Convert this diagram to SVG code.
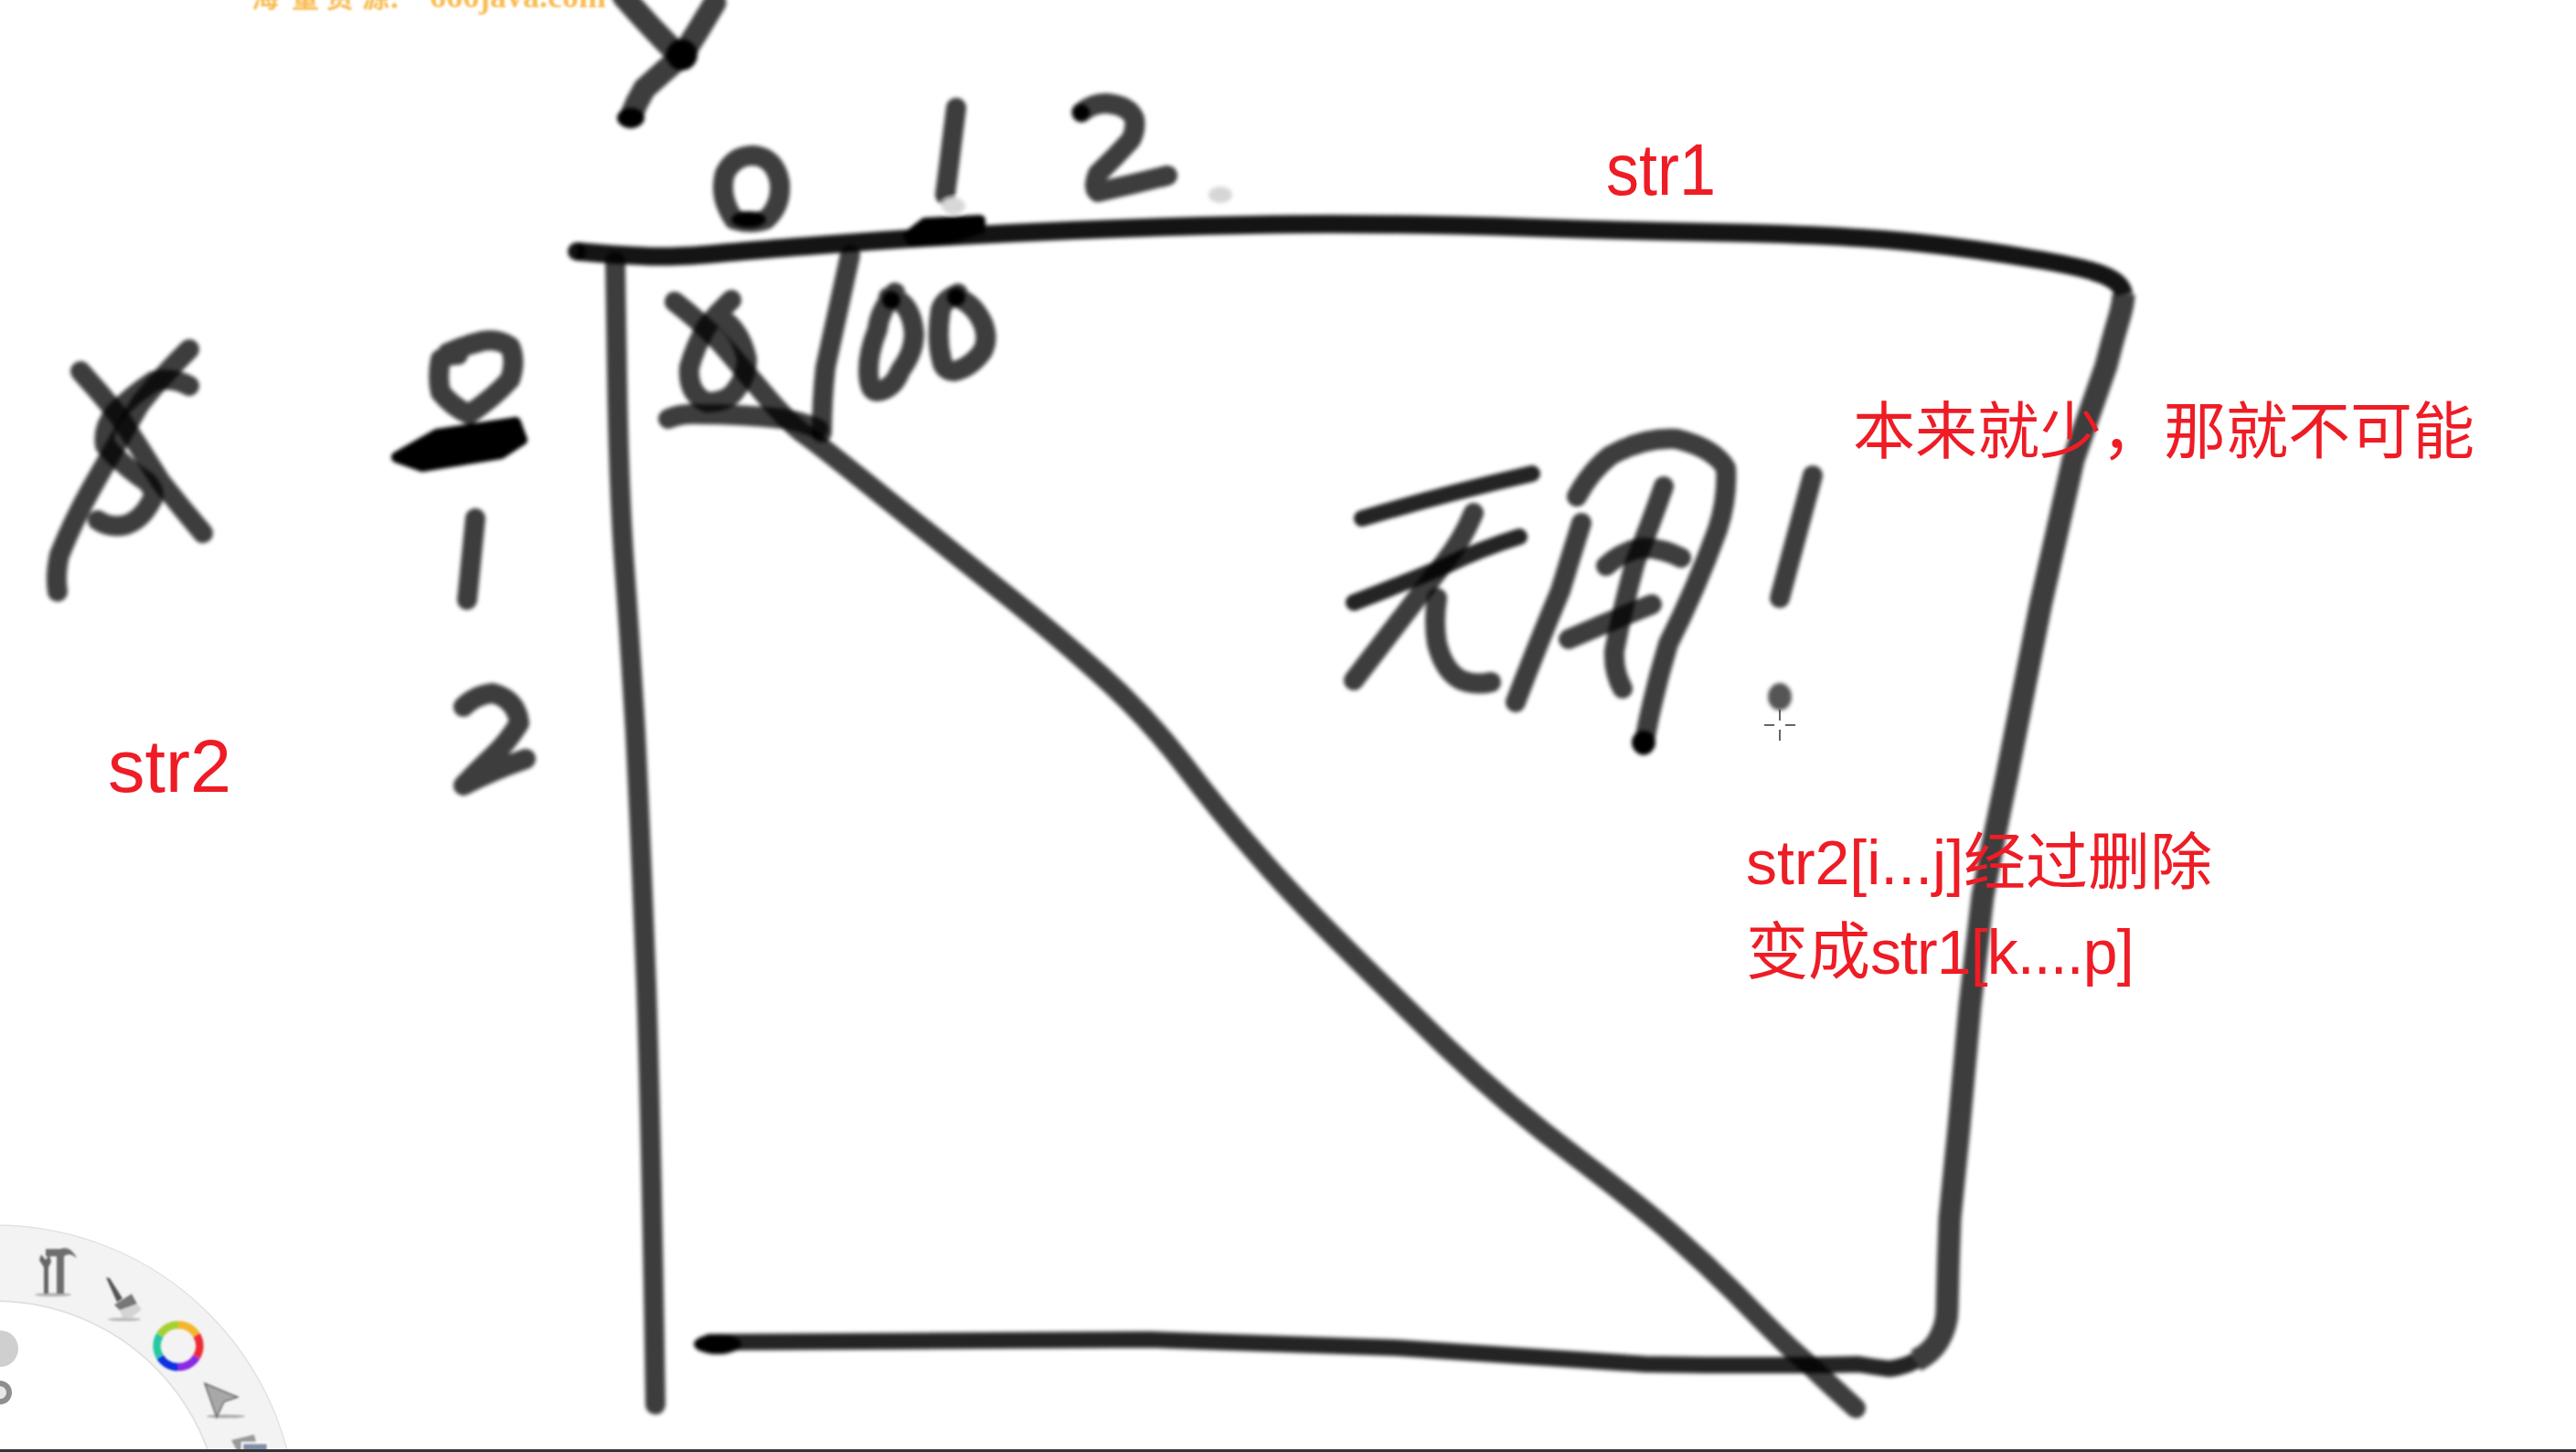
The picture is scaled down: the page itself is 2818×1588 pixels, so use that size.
<svg xmlns="http://www.w3.org/2000/svg" width="2818" height="1588" viewBox="0 0 2818 1588">
<defs>
<filter id="soft" x="-20%" y="-20%" width="140%" height="140%"><feGaussianBlur stdDeviation="2.2"/></filter>
<filter id="softer" x="-30%" y="-30%" width="160%" height="160%"><feGaussianBlur stdDeviation="1.2"/></filter>
</defs>
<style>
.ink{fill:none;stroke:#000;stroke-opacity:.76;stroke-width:22;stroke-linecap:round;stroke-linejoin:round}
.wide{stroke-width:25}
.thin{stroke-width:18;stroke-opacity:.86}
.heavy{stroke-opacity:.92;stroke-width:20}
.butt{stroke-linecap:butt}
.blob{fill:#000;stroke:#000;stroke-width:12;stroke-linejoin:round}
.red{font-family:"Liberation Sans","Noto Sans CJK SC",sans-serif;font-size:68px;fill:#ee1c25}
.wm{font-family:"Liberation Serif","Noto Sans CJK SC",serif;font-size:36px;fill:#f9bd55;font-weight:bold}
</style>
<rect width="2818" height="1588" fill="#fff"/>
<g id="watermark" filter="url(#softer)"><text class="wm" y="8" x="275 319 357 396 424 470"><tspan style="font-size:30px">海量资源：</tspan>666java.com</text></g>

<g id="toolbar">
<circle cx="-5" cy="1670" r="288" fill="none" stroke="#f3f3f3" stroke-width="83"/>
<circle cx="-5" cy="1670" r="330" fill="none" stroke="#e2e2e2" stroke-width="1.5"/>
<circle cx="-5" cy="1670" r="247" fill="none" stroke="#e2e2e2" stroke-width="2"/>
<circle cx="0" cy="1475" r="20" fill="#cfcfcf"/>
<circle cx="0" cy="1523" r="13" fill="#8e8e8e"/>
<circle cx="0" cy="1523" r="7" fill="#e8e8e8"/>
<g id="tool-hammer" filter="url(#softer)">
<ellipse cx="58" cy="1416" rx="20" ry="2" fill="#b5b5b5"/>
<path d="M48 1415V1386L43 1378L45 1372L50 1378L54 1372L56 1380L53 1386V1415Z" fill="#666"/>
<path d="M62 1415V1374H50V1366H66C74 1363 80 1368 84 1376C78 1371 74 1371 70 1374V1415Z" fill="#6e6e6e"/>
</g>
<g id="tool-brush" filter="url(#softer)">
<ellipse cx="136" cy="1443" rx="18" ry="2" fill="#bdbdbd"/>
<path d="M116 1397L120 1398L134 1420L128 1424Z" fill="#555"/>
<path d="M125 1427L144 1415L150 1426L131 1433Z" fill="#777"/>
<path d="M131 1433L150 1426L155 1432L143 1442L134 1441Z" fill="#d4d4d4"/>
</g>
<g id="tool-colour" fill="none" stroke-width="8.5" filter="url(#softer)">
<path d="M175 1460A23 23 0 0 1 195 1449" stroke="#a6d030"/>
<path d="M195 1449A23 23 0 0 1 215 1460" stroke="#f5b52a"/>
<path d="M215 1460A23 23 0 0 1 215 1484" stroke="#ee2c34"/>
<path d="M215 1484A23 23 0 0 1 195 1495" stroke="#8a2be2"/>
<path d="M195 1495A23 23 0 0 1 175 1484" stroke="#1030e0"/>
<path d="M175 1484A23 23 0 0 1 175 1460" stroke="#26c8a0"/>
</g>
<g id="tool-arrow" filter="url(#softer)">
<ellipse cx="247" cy="1549" rx="21" ry="2" fill="#b0b0b0"/>
<path d="M224 1513L260 1528L245 1533L237 1550Z" fill="#a8a8a8" stroke="#666" stroke-width="1.5"/>
</g>
<g id="tool-layers" filter="url(#softer)">
<path d="M253 1575L278 1569L283 1588H260Z" fill="#999"/>
<rect x="265" y="1578" width="28" height="10" fill="#8090a8" stroke="#fff" stroke-width="2"/>
</g>
</g>

<g id="sketch" filter="url(#soft)">
<g id="letter-y">
<path class="ink wide" d="M682 -4Q710 28 738 56"/>
<path class="ink wide" d="M782 3Q765 32 747 60Q726 78 705 97Q696 112 690 128"/>
<ellipse cx="746" cy="60" rx="17" ry="17"/>
<ellipse cx="690" cy="129" rx="15" ry="11"/>
</g>
<g id="index-top">
<path class="ink" d="M803 240Q786 215 793 190Q803 170 824 170Q848 172 853 200Q855 225 838 240Q822 246 803 240"/>
<ellipse cx="819" cy="240" rx="19" ry="9"/>
<path class="ink" d="M1046 118L1034 213"/>
<ellipse cx="1043" cy="225" rx="13" ry="9" fill="#d8d8d8"/>
<path class="blob" d="M994 258L1012 244L1072 241L1072 250L1040 260L998 264Z"/>
<path class="ink" d="M1183 123Q1195 113 1210 113Q1235 115 1241 130Q1243 142 1237 153Q1220 172 1201 190Q1195 205 1201 210Q1238 202 1277 192"/>
<circle cx="1183" cy="123" r="9"/>
<ellipse cx="1335" cy="213" rx="13" ry="9" fill="#d6d6d6"/>
</g>
<g id="grid">
<path class="ink heavy butt" d="M631 275Q673 279 703 280Q734 282 788 277Q842 272 965 263Q1089 255 1223 250Q1357 245 1456 245Q1554 245 1679 249Q1804 253 1915 255Q2027 258 2094 265Q2161 272 2224 283Q2286 293 2306 303Q2322 311 2323 322"/>
<circle cx="631" cy="275" r="10" fill-opacity=".92"/>
<path class="ink wide butt" d="M2323 322Q2323 332 2317 352Q2311 372 2304 400Q2286 452 2268 503Q2250 583 2232 663Q2214 755 2196 846Q2182 913 2169 980Q2162 1040 2155 1100Q2149 1167 2143 1233Q2138 1283 2133 1333Q2131 1383 2130 1433Q2130 1450 2120 1467Q2112 1480 2096 1488"/>
<path class="ink thin butt" d="M2096 1488Q2083 1495 2067 1497Q2050 1495 2033 1492Q2000 1493 1967 1493Q1917 1493 1867 1493L1800 1492Q1664 1483 1527 1474Q1392 1469 1258 1465Q1015 1466 773 1468"/>
<ellipse cx="785" cy="1470" rx="26" ry="11"/>
<path class="ink" d="M673 286L675 411Q677 536 683 618Q689 700 695 799Q700 898 707 1078Q713 1258 717 1536"/>
<path class="ink" d="M930 279Q910 370 903 402Q899 440 899 473"/>
<path class="ink" d="M738 330Q773 357 796 384Q819 411 842 438Q865 464 880 475Q896 486 975 550Q1054 613 1105 654Q1156 695 1204 738Q1253 782 1294 835Q1335 889 1373 932Q1411 976 1462 1027Q1513 1078 1581 1144Q1650 1210 1725 1266Q1800 1323 1833 1353Q1867 1383 1900 1416Q1933 1450 1956 1472Q1980 1493 2005 1517L2030 1540"/>
</g>
<g id="cell-0">
<path class="ink" d="M800 328Q785 342 773 357Q760 380 754 402Q752 430 773 440Q794 440 803 429Q817 412 817 393Q812 368 796 353"/>
<path class="ink" d="M731 458Q745 452 765 453Q810 453 857 458Q880 462 895 469"/>
</g>
<g id="cell-00">
<path class="ink" d="M979 320Q962 340 960 360Q950 385 950 405Q950 428 960 428Q978 425 985 405Q1000 385 1000 365Q998 340 985 330Q978 325 972 325"/>
<path class="ink" d="M1048 321Q1032 328 1029 339Q1024 370 1030 393Q1032 406 1044 406Q1062 402 1075 384Q1082 370 1075 353Q1065 332 1048 326"/>
<circle cx="975" cy="328" r="10"/><circle cx="1046" cy="325" r="10"/>
</g>
<g id="letter-x">
<path class="ink" d="M88 406Q110 430 130 455Q153 490 176 527Q198 555 222 583"/>
<path class="ink" d="M207 382Q178 410 153 442Q125 490 99 536Q80 570 65 607Q60 630 63 647"/>
<path class="ink" d="M207 422Q188 412 168 417Q145 432 126 451Q112 468 115 487Q135 510 161 527Q172 540 165 549Q155 568 138 574Q120 578 107 569"/>
</g>
<g id="index-left">
<path class="ink" d="M501 388Q490 388 482 393Q478 412 482 429Q495 445 513 453Q540 435 558 415Q565 395 558 379Q545 370 528 373Q507 378 490 386"/>
<path class="blob" d="M434 500L478 475L564 462L571 481L548 496L462 510Z"/>
<path class="ink" d="M520 567L511 656"/>
<path class="ink" d="M507 773Q520 760 539 758Q565 765 568 791Q555 812 539 827Q520 845 507 859Q540 842 575 830"/>
</g>
<g id="note-wuyong">
<path class="ink thin" d="M1676 518Q1580 540 1490 567"/>
<path class="ink" d="M1612 561Q1600 590 1581 614Q1530 680 1481 744"/>
<path class="ink thin" d="M1662 587Q1620 600 1581 619Q1530 640 1481 659"/>
<path class="ink" d="M1572 654Q1568 680 1572 704Q1580 735 1599 744Q1615 750 1631 746"/>
<path class="ink" d="M1730 572Q1718 610 1707 646Q1680 710 1658 768"/>
<path class="ink" d="M1725 543Q1740 515 1762 498Q1798 478 1834 480Q1875 490 1888 512Q1890 545 1879 579Q1855 645 1825 704Q1808 760 1798 815"/>
<path class="ink" d="M1820 532Q1805 575 1789 614Q1775 665 1766 712Q1765 735 1775 753"/>
<path class="ink" d="M1757 619Q1775 602 1798 599Q1820 600 1839 610"/>
<path class="ink" d="M1716 699Q1760 680 1807 661"/>
<ellipse cx="1798" cy="812" rx="13" ry="13"/>
<path class="ink" d="M1983 520L1947 654"/>
<ellipse cx="1947" cy="762" rx="13" ry="15" fill="#555"/>
</g>
</g>

<g id="cursor" stroke="#333" stroke-width="1.5" fill="none">
<path d="M1947 776V788M1947 798V810M1930 793H1941M1953 793H1964"/>
</g>

<g id="labels">
<text class="red" x="1757" y="213" textLength="120" lengthAdjust="spacingAndGlyphs" style="font-size:80px">str1</text>
<text class="red" x="118" y="866" style="font-size:81px">str2</text>
<text class="red" x="2027" y="496">本来就少，那就不可能</text>
<text class="red" x="1910" y="967">str2[i...j]经过删除</text>
<text class="red" x="1910" y="1065">变成<tspan letter-spacing="-0.9">str1[k....p]</tspan></text>
</g>
<rect id="bottom-bar" x="0" y="1585" width="2818" height="3" fill="#333"/>
</svg>
